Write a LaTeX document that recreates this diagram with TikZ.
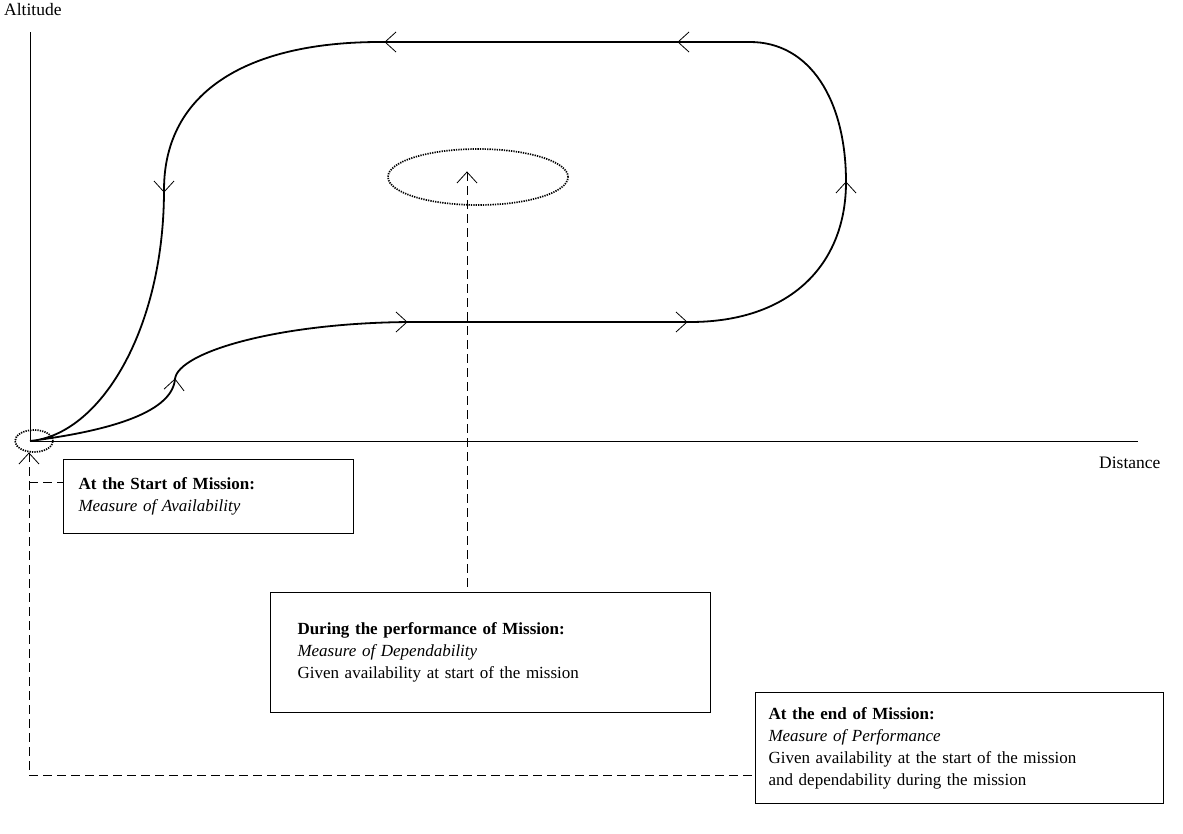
\documentclass[tikz,border=0pt]{standalone}
\usepackage{fontspec}
\setmainfont{Liberation Serif}
\usetikzlibrary{calc,shapes.geometric}

\newcommand\barbat[3]{\draw[barb,shift={(#1,#2)},rotate=#3] (-11,-10) -- (0,0) -- (-11,10);}

\begin{document}
\begin{tikzpicture}[x=1pt,y=-1pt,
  axis/.style={line width=0.7pt},
  flight/.style={line width=1.8pt},
  barb/.style={line width=0.8pt},
  zone/.style={draw,ellipse,line width=1.7pt,dash pattern=on 1.3pt off 1.1pt,inner sep=0pt},
  lead/.style={line width=0.7pt,dash pattern=on 9pt off 5pt},
  axlabel/.style={anchor=north west,inner sep=0pt,font=\fontsize{17.5}{20}\selectfont},
  infobox/.style={draw,line width=1pt,anchor=north west,align=left,
    font=\fontsize{17}{22}\selectfont}]
\useasboundingbox (0,0) rectangle (1183,833);

% axes
\coordinate (o) at (30,441);
\draw[axis] (o) -- (30,32);
\draw[axis] (o) -- (1138,441);
\node[axlabel] (alt) at (4,3) {Altitude};
\node[axlabel] (dist) at (1099,457) {Distance};

% flight profile
\draw[flight] (o) .. controls (100,432) and (172,415) .. (175,379)
  .. controls (178,352) and (280,322) .. (415,322) -- (690,322)
  .. controls (790,322) and (846,265) .. (846,182)
  .. controls (846,100) and (810,42) .. (750,42) -- (380,42)
  .. controls (250,42) and (164,90) .. (164,190)
  .. controls (164,330) and (100,435) .. (o);
\barbat{175}{379}{85}
\barbat{407}{322}{0}
\barbat{687}{322}{0}
\barbat{846}{182}{90}
\barbat{678}{42}{180}
\barbat{385}{42}{180}
\barbat{164}{192}{270}

% zones
\node[zone,minimum width=38pt,minimum height=22pt] (start) at (34,441) {};
\node[zone,minimum width=180pt,minimum height=56pt] (mid) at (478,177) {};

% boxes
\node[infobox,text width=260pt,inner xsep=15pt,minimum height=74pt] (avail) at (63,459)
  {\textbf{At the Start of Mission:}\\ \textit{Measure of Availability}};
\node[infobox,text width=386pt,inner xsep=27pt,minimum height=120pt] (during) at (270,592)
  {\textbf{During the performance of Mission:}\\ \textit{Measure of Dependability}\\ Given availability at start of the mission};
\node[infobox,text width=382pt,inner xsep=13pt,minimum height=111pt] (endm) at (755,692)
  {\textbf{At the end of Mission:}\\ \textit{Measure of Performance}\\ Given availability at the start of the mission\\ and dependability during the mission};

% leaders
\coordinate (sa) at (29,453);
\coordinate (da) at (467,172);
\coordinate (corner) at (29,775);
\barbat{29}{453}{90}
\barbat{467}{172}{90}
\draw[lead] (sa) -- (corner) -- (corner -| endm.west);
\draw[lead] (29,482) -- (avail.west |- 0,482);
\draw[lead] (da) -- (da |- during.north);
\end{tikzpicture}
\end{document}
